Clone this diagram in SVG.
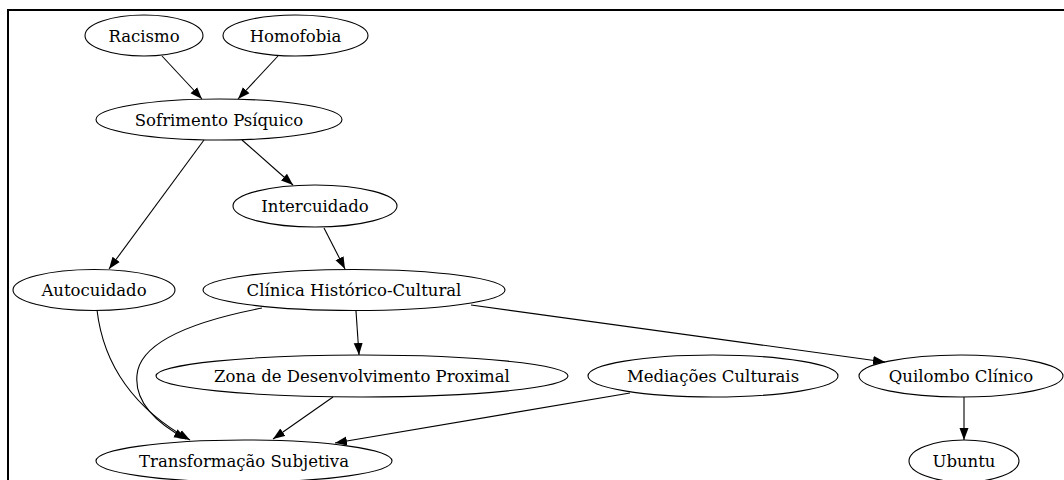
<svg xmlns="http://www.w3.org/2000/svg" width="1064" height="480" viewBox="0 0 1064 480">
<style>
.n ellipse{fill:none;stroke:#000;stroke-width:1.1}
.n text{font-family:"DejaVu Serif",serif;font-size:16.5px;fill:#000;text-anchor:middle}
.e path{fill:none;stroke:#000;stroke-width:1.1;marker-end:url(#ah)}
</style>
<defs>
<marker id="ah" markerUnits="userSpaceOnUse" markerWidth="13" markerHeight="11" refX="12" refY="5" orient="auto">
<path d="M0,0.5 L12,5 L0,9.5 Z" fill="#000"/>
</marker>
</defs>
<rect x="0" y="0" width="1064" height="480" fill="#fff"/>
<rect x="8" y="10" width="1100" height="520" fill="none" stroke="#000" stroke-width="2"/>
<g id="edges" class="e">
<path d="M162,56 L202,99"/>
<path d="M278,56 L238,99"/>
<path d="M204,140 L109,269"/>
<path d="M242,140 L293,185"/>
<path d="M324,228 L345,269"/>
<path d="M97,310 C104,370 140,412 190,440"/>
<path d="M262,308 C200,320 140,340 137,375 C134,405 160,425 186,439"/>
<path d="M356,311 L359,355"/>
<path d="M471,305 L885,362"/>
<path d="M333,397 L273,439"/>
<path d="M630,393 L335,443"/>
<path d="M964,397 L964,440"/>
</g>
<g id="racismo" class="n"><ellipse cx="144" cy="35.5" rx="59" ry="20.5"/><text x="144" y="41.5">Racismo</text></g>
<g id="homofobia" class="n"><ellipse cx="295.5" cy="35.5" rx="72.5" ry="20.5"/><text x="295.5" y="41.5">Homofobia</text></g>
<g id="sofrimento" class="n"><ellipse cx="219" cy="119.5" rx="123" ry="20.5"/><text x="219" y="125.5">Sofrimento Psíquico</text></g>
<g id="intercuidado" class="n"><ellipse cx="315" cy="206" rx="82" ry="21"/><text x="315" y="212">Intercuidado</text></g>
<g id="autocuidado" class="n"><ellipse cx="94" cy="290" rx="81" ry="20.5"/><text x="94" y="296">Autocuidado</text></g>
<g id="clinica" class="n"><ellipse cx="354" cy="290" rx="151" ry="20.5"/><text x="354" y="296">Clínica Histórico-Cultural</text></g>
<g id="zona" class="n"><ellipse cx="362" cy="376" rx="206" ry="21"/><text x="362" y="382">Zona de Desenvolvimento Proximal</text></g>
<g id="mediacoes" class="n"><ellipse cx="713" cy="376" rx="125" ry="21"/><text x="713" y="382">Mediações Culturais</text></g>
<g id="quilombo" class="n"><ellipse cx="961" cy="376" rx="102" ry="21"/><text x="961" y="382">Quilombo Clínico</text></g>
<g id="transformacao" class="n"><ellipse cx="244" cy="461" rx="148" ry="21"/><text x="244" y="467">Transformação Subjetiva</text></g>
<g id="ubuntu" class="n"><ellipse cx="964" cy="461" rx="55" ry="21"/><text x="964" y="467">Ubuntu</text></g>
</svg>
